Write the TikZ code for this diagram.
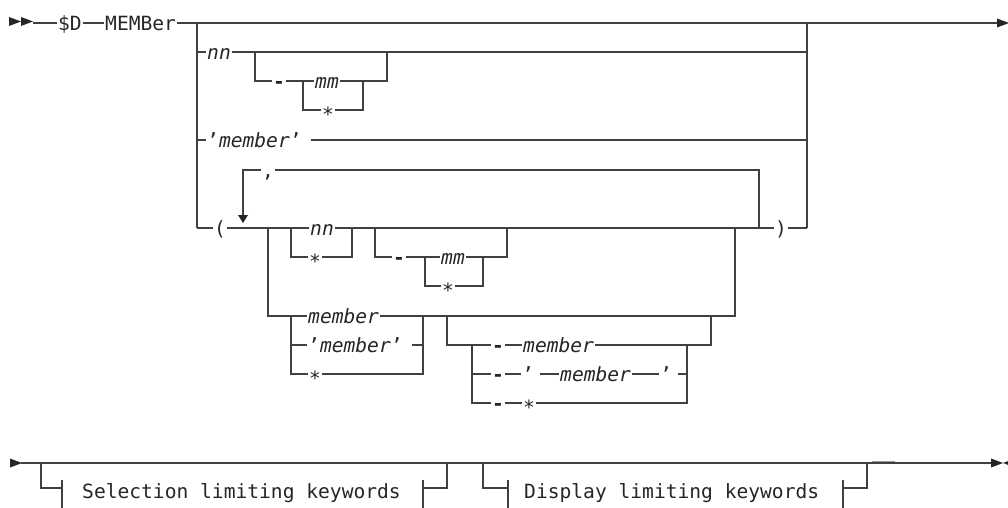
\documentclass[tikz,border=0pt]{standalone}
\usepackage{fontspec}
\newfontfamily\railfont{DejaVu Sans Mono}
\newcommand{\rstar}{\raisebox{-3.8pt}{*}}
\newcommand{\rdash}{{\bfseries -}}

\begin{document}
\begin{tikzpicture}[
    x=1pt, y=-1pt,
    rail/.style={line width=1.2pt, draw=black!75},
    kw/.style={font=\railfont\fontsize{19.6pt}{22pt}\selectfont, text=black!85, inner xsep=1pt, inner ysep=0pt, text height=14.4pt, text depth=0pt, anchor=west},
    var/.style={kw, font=\railfont\fontsize{19.6pt}{22pt}\selectfont\itshape},
    rtri/.pic={\fill[black!85] (-6,-4.5) -- (6,0) -- (-6,4.5) -- cycle;},
    ltri/.pic={\fill[black!85] (6,-4.5) -- (-6,0) -- (6,4.5) -- cycle;},
    dtri/.pic={\fill[black!85] (-5,-4) -- (5,-4) -- (0,4) -- cycle;}
]
\useasboundingbox (0,0) rectangle (1008,508);
\clip (0,0) rectangle (1008,508);

\pic at (15,21.5) {rtri};
\pic at (27,21.5) {rtri};
\coordinate (s0) at (33,23);
\node[kw] (dsign) at (57,23) {\$D};
\node[kw] (memkw) at (104,23) {MEMBer};
\coordinate (jl) at (197,23);
\coordinate (jr) at (807,23);
\coordinate (e0) at (1000,23);
\draw[rail] (s0) -- (dsign) -- (memkw) -- (e0);
\pic at (1003,23) {rtri};

\coordinate (a1) at (197,52);
\node[var] (nn1) at (206,52) {nn};
\coordinate (o1l) at (255,52);
\coordinate (o1r) at (387,52);
\coordinate (b1) at (807,52);
\draw[rail] (a1) -- (nn1) -- (b1);
\coordinate (o1lb) at (255,81);
\node[kw] (dash1) at (272,81) {\rdash};
\coordinate (m1l) at (303,81);
\node[var] (mm1) at (314,81) {mm};
\coordinate (m1r) at (363,81);
\coordinate (o1rb) at (387,81);
\draw[rail] (o1l) -- (o1lb) -- (dash1) -- (m1l) -- (mm1) -- (m1r) -- (o1rb) -- (o1r);
\coordinate (m1lb) at (303,110);
\node[kw] (star1) at (321,110) {\rstar};
\coordinate (m1rb) at (363,110);
\draw[rail] (m1l) -- (m1lb) -- (star1) -- (m1rb) -- (m1r);

\coordinate (a4) at (197,140);
\node[kw] (qmem1) at (206,140) {’\textit{member}’\kern8pt};
\coordinate (b4) at (807,140);
\draw[rail] (a4) -- (qmem1) -- (b4);

\pic at (243,219) {dtri};
\coordinate (lp0) at (243,215);
\coordinate (lp1) at (243,170);
\node[kw] (comma) at (261,170) {,};
\coordinate (lp2) at (759,170);
\coordinate (lp3) at (759,228);
\draw[rail] (lp0) -- (lp1) -- (comma) -- (lp2) -- (lp3);

\coordinate (a5) at (197,228);
\node[kw] (lpar) at (213,228) {(};
\coordinate (g5) at (268,228);
\coordinate (c5l) at (291,228);
\node[var] (nn2) at (309,228) {nn};
\coordinate (c5r) at (352,228);
\coordinate (o5l) at (375,228);
\coordinate (o5r) at (507,228);
\coordinate (h5) at (735,228);
\node[kw] (rpar) at (774,228) {)};
\coordinate (b5) at (807,228);
\draw[rail] (a5) -- (lpar) -- (nn2) -- (rpar) -- (b5);
\draw[rail] (jl) -- (a5);
\draw[rail] (jr) -- (b5);

\coordinate (c5lb) at (291,257);
\node[kw] (star2) at (308,257) {\rstar};
\coordinate (c5rb) at (352,257);
\draw[rail] (c5l) -- (c5lb) -- (star2) -- (c5rb) -- (c5r);

\coordinate (o5lb) at (375,257);
\node[kw] (dash2) at (392,257) {\rdash};
\coordinate (m5l) at (425,257);
\node[var] (mm2) at (440,257) {mm};
\coordinate (m5r) at (483,257);
\coordinate (o5rb) at (507,257);
\draw[rail] (o5l) -- (o5lb) -- (dash2) -- (m5l) -- (mm2) -- (m5r) -- (o5rb) -- (o5r);
\coordinate (m5lb) at (425,286);
\node[kw] (star3) at (441,286) {\rstar};
\coordinate (m5rb) at (483,286);
\draw[rail] (m5l) -- (m5lb) -- (star3) -- (m5rb) -- (m5r);

\coordinate (g8) at (268,316);
\coordinate (k8l) at (291,316);
\node[var] (mem2) at (307,316) {member};
\coordinate (k8r) at (423,316);
\coordinate (p8l) at (447,316);
\coordinate (p8r) at (711,316);
\coordinate (h8) at (735,316);
\draw[rail] (g5) -- (g8) -- (mem2) -- (h8) -- (h5);

\coordinate (k9l) at (291,345);
\node[kw] (qmem2) at (307,345) {’\textit{member}’\kern8pt};
\coordinate (k9r) at (423,345);
\coordinate (k10l) at (291,374);
\node[kw] (star4) at (308,374) {\rstar};
\coordinate (k10r) at (423,374);
\draw[rail] (k8l) -- (k10l) -- (star4) -- (k10r) -- (k8r);
\draw[rail] (k9l) -- (qmem2) -- (k9r);

\coordinate (p9l) at (447,345);
\coordinate (q9l) at (472,345);
\node[kw] (dash3) at (491,345) {\rdash};
\node[var] (mem3) at (522,345) {member};
\coordinate (q9r) at (687,345);
\coordinate (p9r) at (711,345);
\draw[rail] (p8l) -- (p9l) -- (dash3) -- (mem3) -- (p9r) -- (p8r);

\coordinate (q10l) at (472,374);
\node[kw] (dash4) at (491,374) {\rdash};
\node[kw] (qa) at (521,374) {’\kern5pt};
\node[var] (mem4) at (559,374) {member};
\node[kw] (qb) at (659,374) {’\kern5pt};
\coordinate (q10r) at (687,374);
\draw[rail] (q10l) -- (dash4) -- (qa) -- (mem4) -- (qb) -- (q10r);

\coordinate (q11l) at (472,403);
\node[kw] (dash5) at (491,403) {\rdash};
\node[kw] (star5) at (522,403) {\rstar};
\coordinate (q11r) at (687,403);
\draw[rail] (q9l) -- (q11l) -- (dash5) -- (star5) -- (q11r) -- (q9r);

\pic at (16,463) {rtri};
\coordinate (s12) at (21,463);
\coordinate (e12) at (993,463);
\draw[line width=2pt, draw=black!40] (872,461.5) -- (895,461.5);
\draw[rail] (s12) -- (e12);
\pic at (997,463) {rtri};
\pic at (1009,463) {ltri};

\coordinate (f1l) at (41,463);
\coordinate (f1lb) at (41,488);
\coordinate (t1l) at (62,488);
\coordinate (t1la) at (62,480);
\coordinate (t1lb) at (62,508);
\node[kw] (selkw) at (81,491) {Selection limiting keywords};
\coordinate (t1r) at (423,488);
\coordinate (t1ra) at (423,480);
\coordinate (t1rb) at (423,508);
\coordinate (f1rb) at (447,488);
\coordinate (f1r) at (447,463);
\draw[rail] (f1l) -- (f1lb) -- (t1l);
\draw[rail] (t1la) -- (t1lb);
\draw[rail] (t1ra) -- (t1rb);
\draw[rail] (t1r) -- (f1rb) -- (f1r);

\coordinate (f2l) at (483,463);
\coordinate (f2lb) at (483,488);
\coordinate (t2l) at (508,488);
\coordinate (t2la) at (508,480);
\coordinate (t2lb) at (508,508);
\node[kw] (diskw) at (523,491) {Display limiting keywords};
\coordinate (t2r) at (843,488);
\coordinate (t2ra) at (843,480);
\coordinate (t2rb) at (843,508);
\coordinate (f2rb) at (867,488);
\coordinate (f2r) at (867,463);
\draw[rail] (f2l) -- (f2lb) -- (t2l);
\draw[rail] (t2la) -- (t2lb);
\draw[rail] (t2ra) -- (t2rb);
\draw[rail] (t2r) -- (f2rb) -- (f2r);
\end{tikzpicture}
\end{document}
